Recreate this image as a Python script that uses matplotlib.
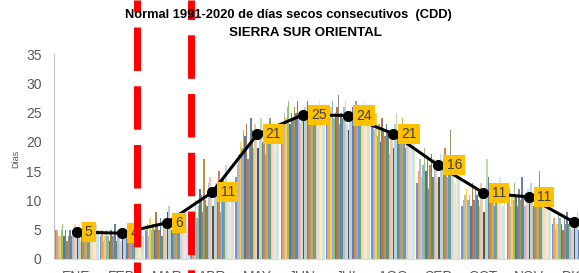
import numpy as np
import matplotlib
matplotlib.use("Agg")
import matplotlib.pyplot as plt

months = ["ENE", "FEB", "MAR", "ABR", "MAY", "JUN", "JUL", "AGO", "SEP", "OCT", "NOV", "DIC"]

# mean consecutive dry days per month (line)
mean_cdd = [4.6, 4.4, 6.2, 11.4, 21.3, 24.6, 24.5, 21.4, 16.0, 11.3, 10.6, 6.3]

# yearly values 1991-2020, one list per month (read approx. from the bars)
ene = [5, 5, 4, 4, 5, 6, 4, 5, 3, 4, 5, 4, 5, 6, 5, 5, 5, 3, 5, 4, 6, 5, 4, 5, 3, 5, 4, 5, 6, 5]
feb = [4, 5, 3, 4, 5, 4, 3, 5, 4, 4, 6, 3, 5, 4, 3, 5, 4, 4, 5, 6, 4, 3, 4, 5, 4, 5, 4, 3, 5, 4]
mar = [5, 6, 4, 7, 5, 6, 5, 8, 6, 5, 7, 4, 6, 7, 5, 8, 9, 6, 5, 7, 6, 5, 7, 8, 6, 5, 7, 6, 8, 5]
abr = [5, 6, 8, 10, 7, 9, 12, 11, 8, 17, 10, 9, 13, 14, 12, 9, 11, 13, 10, 15, 8, 12, 14, 10, 16, 11, 13, 9, 12, 11]
may = [14, 16, 18, 20, 19, 22, 21, 23, 17, 20, 24, 22, 19, 23, 21, 19, 22, 24, 20, 23, 18, 21, 22, 24, 20, 23, 22, 19, 21, 22]
jun = [22, 23, 25, 24, 26, 27, 23, 25, 24, 26, 25, 27, 24, 23, 25, 24, 26, 25, 27, 26, 24, 25, 23, 26, 24, 25, 27, 24, 26, 25]
jul = [24, 25, 23, 26, 27, 24, 25, 26, 28, 23, 25, 24, 26, 27, 23, 22, 25, 24, 26, 25, 27, 24, 23, 26, 25, 24, 27, 23, 25, 24]
ago = [23, 24, 22, 25, 21, 23, 20, 24, 22, 21, 23, 22, 18, 21, 22, 19, 23, 25, 21, 22, 20, 24, 21, 19, 22, 23, 20, 21, 19, 22]
sep = [13, 15, 17, 14, 16, 19, 15, 17, 12, 16, 18, 14, 17, 15, 13, 14, 18, 16, 15, 19, 17, 14, 16, 22, 15, 17, 13, 16, 14, 15]
octu = [9, 10, 11, 12, 10, 11, 9, 13, 10, 12, 11, 10, 9, 13, 12, 8, 11, 17, 14, 12, 10, 13, 9, 11, 12, 10, 14, 11, 9, 10]
nov = [10, 12, 9, 11, 10, 13, 11, 9, 12, 10, 14, 11, 9, 10, 12, 11, 13, 10, 9, 11, 12, 10, 15, 11, 10, 9, 12, 10, 11, 8]
dic = [6, 7, 5, 6, 8, 7, 6, 5, 7, 6, 8, 6, 7, 5, 6, 7, 6, 8, 5, 6, 7, 6, 5, 7, 6, 8, 6, 7, 5, 6]

years = list(range(1991, 2021))
data = np.array([ene, feb, mar, abr, may, jun, jul, ago, sep, octu, nov, dic])  # 12 x 30

# Excel-like palette
base = ["#4472C4", "#ED7D31", "#A5A5A5", "#FFC000", "#5B9BD5", "#70AD47"]
dark = ["#264478", "#9E480E", "#636363", "#997300", "#255E91", "#43682B"]
light = ["#8FAADC", "#F4B183", "#C9C9C9", "#FFD966", "#9DC3E6", "#A9D18E"]
dark2 = ["#2F5597", "#C55A11", "#7F7F7F", "#BF9000", "#2E75B6", "#548235"]
light2 = ["#B4C7E7", "#F8CBAD", "#DBDBDB", "#FFE699", "#BDD7EE", "#C5E0B4"]
colors = base + dark + light + dark2 + light2
colors[15] = "#1A1A1A"

plt.rcParams["font.family"] = ["Liberation Sans", "DejaVu Sans"]

fig = plt.figure(figsize=(5.79, 2.73), dpi=100)
ax = fig.add_axes([54 / 579, 14 / 273, 542.4 / 579, 205 / 273])

x = np.arange(len(months))
n = len(years)
grp = 0.97
w = grp / n
for j in range(n):
    ax.bar(x - grp / 2 + (j + 0.5) * w, data[:, j], width=w, color=colors[j],
           alpha=0.75, linewidth=0, zorder=2)

ax.plot(x, mean_cdd, color="black", lw=2.2, marker="o", ms=7, zorder=4)
for xi, v in zip(x, mean_cdd):
    ax.annotate(f"{v:.0f}", (xi, v), xytext=(6, 0), textcoords="offset points",
                ha="left", va="center", fontsize=10, color="#404040", zorder=5,
                bbox=dict(boxstyle="square,pad=0.22", fc="#FFC000", ec="none"))

ax.set_xlim(-0.5, 11.5)
ax.set_ylim(0, 35)
ax.set_yticks(range(0, 36, 5))
ax.set_xticks(x)
ax.set_xticklabels(months)
ax.tick_params(axis="both", length=0, labelsize=10, labelcolor="#595959")
ax.tick_params(axis="y", pad=9)
ax.tick_params(axis="x", pad=8)
for s in ["top", "right"]:
    ax.spines[s].set_visible(False)
ax.spines["left"].set_color("#BFBFBF")
ax.spines["bottom"].set_color("#D9D9D9")
ax.set_ylabel("Dias", fontsize=6.5, color="#595959")
ax.yaxis.set_label_coords(-0.063, 0.49)

# red dashed markers (drawn across the whole figure)
plt.rcParams["lines.scale_dashes"] = False
for xv, off in [(1.336, 23.4), (2.52, 29.0)]:
    ax.axvline(xv, ymin=-14 / 205, ymax=259 / 205, color="#FF0000", lw=5.0,
               linestyle=(off, (31.3, 11.0)), clip_on=False, zorder=6)

fig.text(288 / 579, 1 - 15 / 273, "Normal 1991-2020 de días secos consecutivos  (CDD)",
         ha="center", va="center", fontsize=9.3, fontweight="bold")
fig.text(305 / 579, 1 - 33 / 273, "SIERRA SUR ORIENTAL",
         ha="center", va="center", fontsize=9.6, fontweight="bold")

fig.savefig("out.png", dpi=100)
